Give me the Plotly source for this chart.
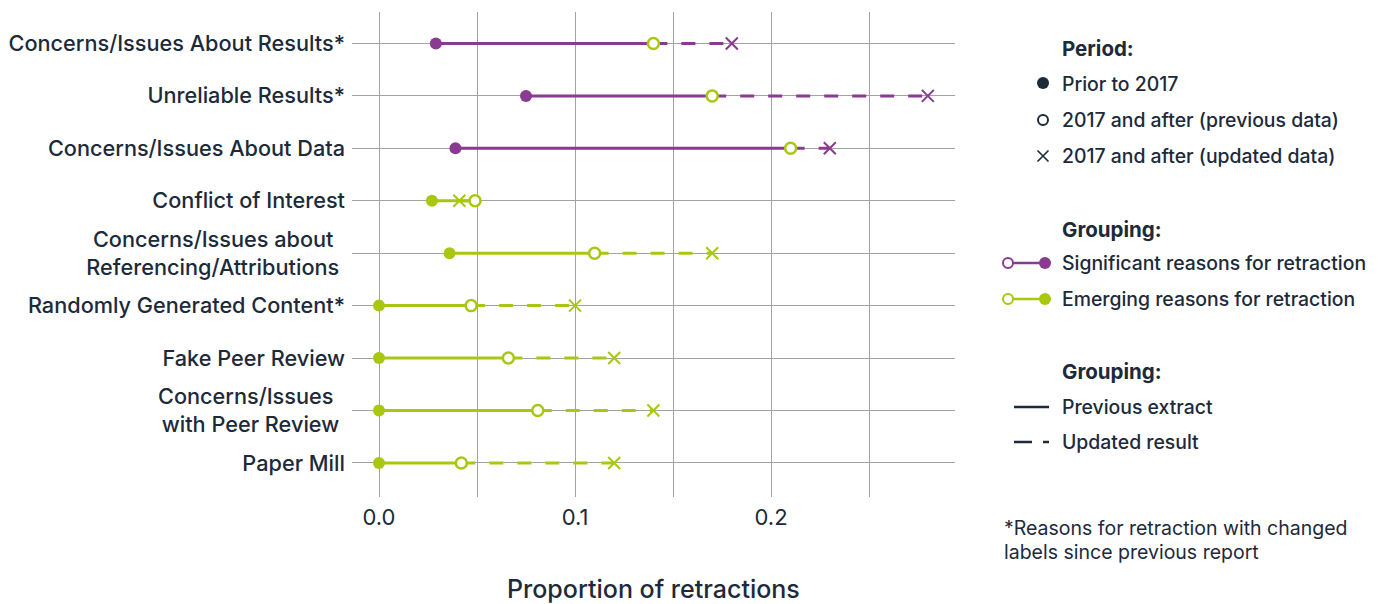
import plotly.graph_objects as go

# ---------------- data ----------------
NB = "\u00a0"
categories = [
    "Concerns/Issues About Results*",
    "Unreliable Results*",
    "Concerns/Issues About Data",
    "Conflict of Interest",
    "Concerns/Issues about" + NB * 2 + "<br>Referencing/Attributions" + NB,
    "Randomly Generated Content*",
    "Fake Peer Review",
    "Concerns/Issues" + NB * 2 + "<br>with Peer Review" + NB,
    "Paper Mill",
]
grouping = ["sig", "sig", "sig", "emg", "emg", "emg", "emg", "emg", "emg"]
prior_2017 = [0.029, 0.075, 0.039, 0.027, 0.036, 0.0, 0.0, 0.0, 0.0]
after_2017_previous = [0.140, 0.170, 0.210, 0.049, 0.110, 0.047, 0.066, 0.081, 0.042]
after_2017_updated = [0.180, 0.280, 0.230, 0.041, 0.170, 0.100, 0.120, 0.140, 0.120]

x_tickvals = [0.0, 0.05, 0.10, 0.15, 0.20, 0.25]
x_ticktext = ["0.0", "", "0.1", "", "0.2", ""]

# ---------------- styles ----------------
SW, SH = 1381, 604          # screen size
OFF = 8                     # page body margin
W, H = SW - OFF, SH - OFF   # figure size
PURPLE = "#8a3a90"
LIME = "#a8c80f"
DARK = "#1c2a3a"
GRID = "#a3a3a3"
FONT = "Inter"
group_color = {"sig": PURPLE, "emg": LIME}

# plot area in screen pixels
PL, PR, PT, PB = 352, 955, 12, 497

fig = go.Figure()

# lines
for i, cat in enumerate(categories):
    c = group_color[grouping[i]]
    fig.add_trace(go.Scatter(
        x=[after_2017_previous[i], after_2017_updated[i]], y=[cat, cat],
        mode="lines", line=dict(color=c, width=3, dash="14px,14px"),
        showlegend=False, hoverinfo="skip"))
    fig.add_trace(go.Scatter(
        x=[prior_2017[i], after_2017_previous[i]], y=[cat, cat],
        mode="lines", line=dict(color=c, width=3),
        showlegend=False, hoverinfo="skip"))

colors = [group_color[g] for g in grouping]
# markers
fig.add_trace(go.Scatter(
    x=after_2017_updated, y=categories, mode="markers",
    marker=dict(symbol="x-thin", size=12, line=dict(color=colors, width=2)),
    showlegend=False))
fig.add_trace(go.Scatter(
    x=after_2017_previous, y=categories, mode="markers",
    marker=dict(symbol="circle", size=11, color="white", line=dict(color=LIME, width=2.5)),
    showlegend=False))
fig.add_trace(go.Scatter(
    x=prior_2017, y=categories, mode="markers",
    marker=dict(symbol="circle", size=12, color=colors, line=dict(width=0)),
    showlegend=False))

# ---------------- legend glyphs (screen-pixel overlay axis) ----------------
def legend_trace(xs, ys, **kw):
    fig.add_trace(go.Scatter(x=xs, y=ys, xaxis="x2", yaxis="y2", showlegend=False,
                             hoverinfo="skip", **kw))

legend_trace([1043], [83], mode="markers", marker=dict(symbol="circle", size=12, color=DARK))
legend_trace([1043], [120], mode="markers",
             marker=dict(symbol="circle", size=10, color="white", line=dict(color=DARK, width=2)))
legend_trace([1043], [156], mode="markers",
             marker=dict(symbol="x-thin", size=11, line=dict(color=DARK, width=1.6)))
for yy, col in [(263, PURPLE), (299, LIME)]:
    legend_trace([1008, 1045], [yy, yy], mode="lines", line=dict(color=col, width=2.5))
    legend_trace([1008], [yy], mode="markers",
                 marker=dict(symbol="circle", size=10, color="white", line=dict(color=col, width=2)))
    legend_trace([1045], [yy], mode="markers", marker=dict(symbol="circle", size=12, color=col))
legend_trace([1014, 1049], [407, 407], mode="lines", line=dict(color=DARK, width=2.5))
legend_trace([1014, 1049], [442, 442], mode="lines", line=dict(color=DARK, width=2.5, dash="18px,11px"))

# ---------------- annotations ----------------
ann = []
def text(x, y, s, size=19.4, weight=500, xanchor="left"):
    ann.append(dict(x=x, y=y, xref="x2", yref="y2", text=s, showarrow=False,
                    xanchor=xanchor, yanchor="middle", align="left", xshift=-2,
                    font=dict(family=FONT, size=size, color=DARK, weight=weight)))

text(1062, 48, "Period:", size=20.5, weight=700)
text(1062, 84, "Prior to 2017")
text(1062, 120, "2017 and after (previous data)")
text(1062, 156, "2017 and after (updated data)")
text(1062, 229, "Grouping:", size=20.5, weight=700)
text(1062, 263, "Significant reasons for retraction")
text(1062, 299, "Emerging reasons for retraction")
text(1062, 371, "Grouping:", size=20.5, weight=700)
text(1062, 407, "Previous extract")
text(1062, 442, "Updated result")
text(1004, 528, "*Reasons for retraction with changed", size=19.5, weight=400)
text(1004, 552, "labels since previous report", size=19.5, weight=400)
text((PL + PR) / 2 + 2, 589, "Proportion of retractions", size=25, xanchor="center")

fig.update_layout(
    width=W, height=H,
    margin=dict(l=0, r=0, t=0, b=0),
    paper_bgcolor="white", plot_bgcolor="rgba(0,0,0,0)",
    font=dict(family=FONT, color=DARK),
    xaxis=dict(domain=[(PL - OFF) / W, (PR - OFF) / W], range=[-27 / 1960, 576 / 1960],
               tickvals=x_tickvals, ticktext=x_ticktext,
               showgrid=True, gridcolor=GRID, gridwidth=1, zeroline=False,
               showline=False, ticks="", tickfont=dict(size=22, color=DARK, weight=400),
               ticklabelstandoff=5, anchor="y", fixedrange=True),
    yaxis=dict(domain=[(SH - PB) / H, (SH - PT) / H], type="category",
               categoryorder="array", categoryarray=categories,
               range=[8.65, -0.6],
               showgrid=True, gridcolor=GRID, gridwidth=1, zeroline=False,
               showline=False, ticks="", tickfont=dict(size=21.7, color=DARK, weight=500),
               ticklabelstandoff=6, anchor="x", fixedrange=True),
    xaxis2=dict(domain=[0, 1], range=[OFF, SW], visible=False, anchor="y2", fixedrange=True),
    yaxis2=dict(domain=[0, 1], range=[SH, OFF], visible=False, anchor="x2", fixedrange=True),
    annotations=ann,
    showlegend=False,
)

fig.write_html("out.html")
